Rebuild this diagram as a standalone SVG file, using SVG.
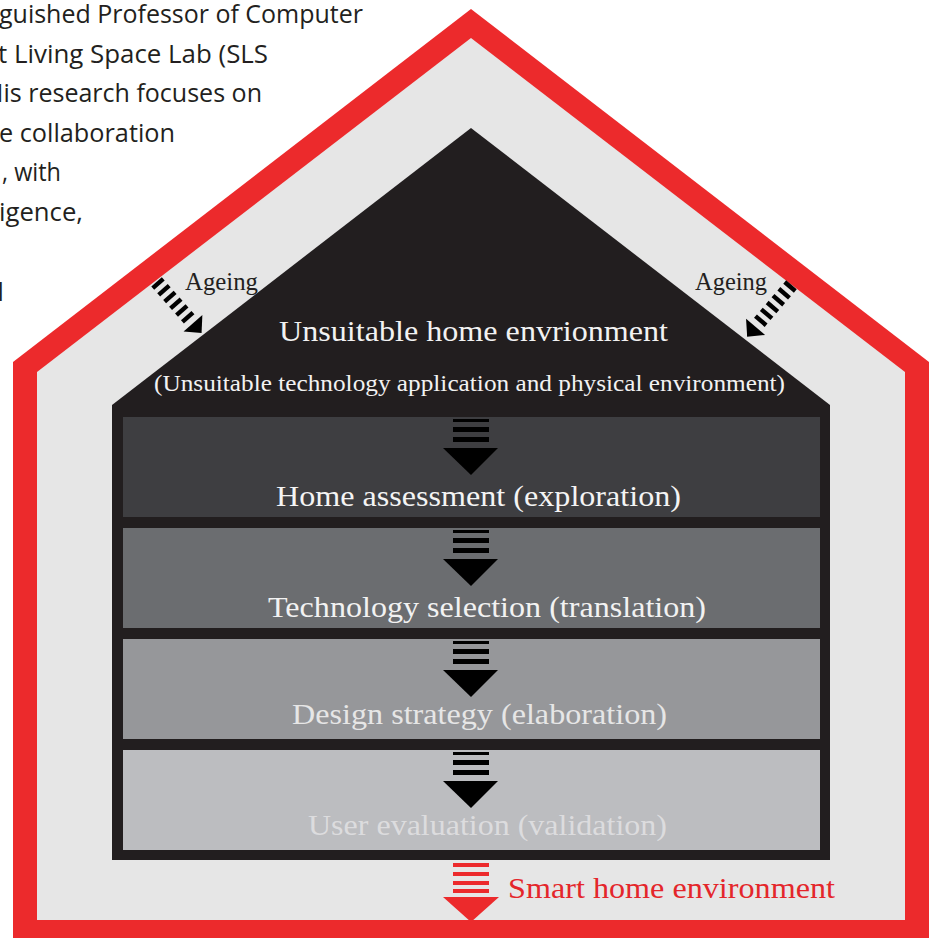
<svg xmlns="http://www.w3.org/2000/svg" width="934" height="938" viewBox="0 0 934 938">
<style>
.serif{font-family:"Liberation Serif","Times New Roman",serif}
.sans{font-family:"Open Sans","Noto Sans","Liberation Sans",sans-serif;font-size:25px;fill:#231f20}
.band-label{font-size:29px}
.blk{fill:#000}
.red{fill:#ec2a2c}
</style>
<defs>
<g id="downArrow">
<rect x="-18" y="2" width="36" height="3"/>
<rect x="-18" y="10" width="36" height="5"/>
<rect x="-18" y="20" width="36" height="5"/>
<polygon points="-28,31 27,31 0,58"/>
</g>
<g id="ageArrow">
<rect x="-2.2" y="-7" width="4.4" height="14"/>
<rect x="6.8" y="-7" width="4.4" height="14"/>
<rect x="15.8" y="-7" width="4.4" height="14"/>
<rect x="24.8" y="-7" width="4.4" height="14"/>
<rect x="33.8" y="-7" width="4.4" height="14"/>
<rect x="42.8" y="-7" width="4.4" height="14"/>
<polygon points="53,-12.5 53,12.5 66,0"/>
</g>
</defs>
<rect width="934" height="938" fill="#ffffff"/>

<g id="side-text" class="sans">
<text x="-1" y="23" textLength="364" lengthAdjust="spacingAndGlyphs">guished Professor of Computer</text>
<text x="-2" y="62.5" textLength="270" lengthAdjust="spacingAndGlyphs">t Living Space Lab (SLS</text>
<text x="-15" y="102" textLength="277" lengthAdjust="spacingAndGlyphs">His research focuses on</text>
<text x="-1" y="141.5" textLength="176" lengthAdjust="spacingAndGlyphs">e collaboration</text>
<text x="2" y="181" textLength="59" lengthAdjust="spacingAndGlyphs">, with</text>
<text x="-1" y="220.5" textLength="84" lengthAdjust="spacingAndGlyphs">igence,</text>
<text x="-2.5" y="301">l</text>
</g>

<g id="smart-home-environment">
<polygon class="red" points="13,938 13,362 471,9 929,362 929,938"/>
<polygon fill="#e6e6e6" points="37,920 37,372 471,38 905,372 905,920"/>
</g>

<g id="unsuitable-home">
<polygon fill="#221e1f" points="112,860 112,405 471,128 830,405 830,860"/>
<text class="serif" x="279" y="340.5" font-size="29" fill="#f2f2f2" textLength="389" lengthAdjust="spacingAndGlyphs">Unsuitable home envrionment</text>
<text class="serif" x="154" y="391" font-size="22.5" fill="#f2f2f2" textLength="631" lengthAdjust="spacingAndGlyphs">(Unsuitable technology application and physical environment)</text>
</g>

<g id="home-assessment">
<rect x="123" y="417" width="697" height="100" fill="#3e3e41"/>
<text class="serif band-label" x="276" y="506" fill="#f4f4f4" textLength="405" lengthAdjust="spacingAndGlyphs">Home assessment (exploration)</text>
</g>
<g id="technology-selection">
<rect x="123" y="528" width="697" height="100" fill="#6b6d70"/>
<text class="serif band-label" x="268" y="616.5" fill="#f2f2f2" textLength="438" lengthAdjust="spacingAndGlyphs">Technology selection (translation)</text>
</g>
<g id="design-strategy">
<rect x="123" y="639" width="697" height="100" fill="#96979a"/>
<text class="serif band-label" x="292" y="723.5" fill="#e6e6e6" textLength="375" lengthAdjust="spacingAndGlyphs">Design strategy (elaboration)</text>
</g>
<g id="user-evaluation">
<rect x="123" y="750" width="697" height="100" fill="#bcbdc0"/>
<text class="serif band-label" x="308" y="835" fill="#dcdcde" textLength="359" lengthAdjust="spacingAndGlyphs">User evaluation (validation)</text>
</g>

<g id="labels" class="serif">
<text x="185" y="290" font-size="25" fill="#231f20" textLength="73" lengthAdjust="spacingAndGlyphs">Ageing</text>
<text x="695" y="290" font-size="25" fill="#231f20" textLength="72" lengthAdjust="spacingAndGlyphs">Ageing</text>
<text x="508" y="898" font-size="29" fill="#e4262b" textLength="327" lengthAdjust="spacingAndGlyphs">Smart home environment</text>
</g>

<g id="connectors">
<use href="#ageArrow" class="blk" transform="translate(158,283.5) rotate(48.7)"/>
<use href="#ageArrow" class="blk" transform="translate(790,286.5) rotate(130.5)"/>
<use href="#downArrow" class="blk" transform="translate(471,417)"/>
<use href="#downArrow" class="blk" transform="translate(471,528)"/>
<use href="#downArrow" class="blk" transform="translate(471,639)"/>
<use href="#downArrow" class="blk" transform="translate(471,750)"/>
<g class="red">
<rect x="453" y="863" width="36" height="4"/>
<rect x="453" y="872" width="36" height="4"/>
<rect x="453" y="881" width="36" height="4"/>
<rect x="453" y="889" width="36" height="4"/>
<polygon points="443,897 499,897 471,922"/>
</g>
</g>
</svg>
